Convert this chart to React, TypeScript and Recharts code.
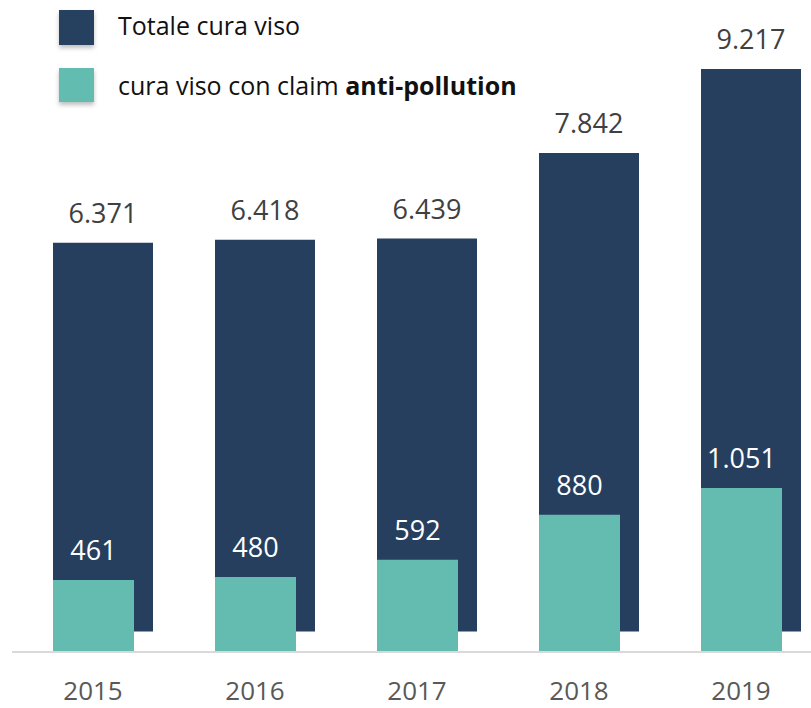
import React from "react"
import { Bar, BarChart, LabelList, Legend, XAxis, YAxis } from "recharts"

const years = ["2015", "2016", "2017", "2018", "2019"]
const totaleCuraViso = [6371, 6418, 6439, 7842, 9217]
const antiPollution = [461, 480, 592, 880, 1051]

const DARK = "#263F5F"
const TEAL = "#64BCB0"
const FONT = "'Open Sans', sans-serif"

const data = years.map((year, i) => ({
  year,
  totale: totaleCuraViso[i],
  anti: antiPollution[i],
}))

// dots as thousands separator, italian style
const fmt = (v: any) => String(v).replace(/\B(?=(\d{3})+(?!\d))/g, ".")

function LegendBox() {
  return (
    <svg width={600} height={110} style={{ display: "block" }}>
      <defs>
        <filter id="sh" x="-20%" y="-20%" width="150%" height="160%">
          <feDropShadow dx="0" dy="3" stdDeviation="2" floodColor="#000" floodOpacity="0.25" />
        </filter>
      </defs>
      <rect x={59} y={10} width={35} height={35} fill={DARK} filter="url(#sh)" />
      <rect x={59} y={68} width={35} height={34} fill={TEAL} filter="url(#sh)" />
      <text x={118} y={35} fontFamily={FONT} fontSize={25} fill="#111">
        Totale cura viso
      </text>
      <text x={118} y={95} fontFamily={FONT} fontSize={25} fill="#111">
        cura viso con claim <tspan fontWeight="bold">anti-pollution</tspan>
      </text>
    </svg>
  )
}

export default function App() {
  return (
    <div style={{ position: "absolute", left: 0, top: 0, width: 811, height: 708, overflow: "hidden", background: "#fff" }}>
      <BarChart
        width={811}
        height={708}
        data={data}
        margin={{ top: 20, right: -11, left: 12, bottom: 0 }}
        barGap={-100}
      >
        <XAxis
          dataKey="year"
          height={56}
          axisLine={{ stroke: "#D9D9D9", strokeWidth: 2 }}
          tickLine={false}
          tickSize={0}
          tickMargin={30}
          tick={{ fontFamily: FONT, fontSize: 26, fill: "#595959" }}
        />
        <YAxis yAxisId="tot" hide type="number" domain={[-336, 10020]} />
        <YAxis yAxisId="anti" hide type="number" domain={[0, 4051]} orientation="right" />
        <Legend
          layout="horizontal"
          verticalAlign="middle"
          wrapperStyle={{ top: 0, left: 0, width: 600, height: 110 }}
          content={() => <LegendBox />}
        />
        <Bar dataKey="totale" yAxisId="tot" barSize={100} fill={DARK} isAnimationActive={false}>
          <LabelList
            dataKey="totale"
            position="top"
            offset={20}
            formatter={fmt}
            style={{ fontFamily: FONT, fontSize: 27, fill: "#404040" }}
          />
        </Bar>
        <Bar dataKey="anti" yAxisId="anti" barSize={81} fill={TEAL} isAnimationActive={false}>
          <LabelList
            dataKey="anti"
            position="top"
            offset={20}
            formatter={fmt}
            style={{ fontFamily: FONT, fontSize: 27, fill: "#FFFFFF" }}
          />
        </Bar>
      </BarChart>
    </div>
  )
}
